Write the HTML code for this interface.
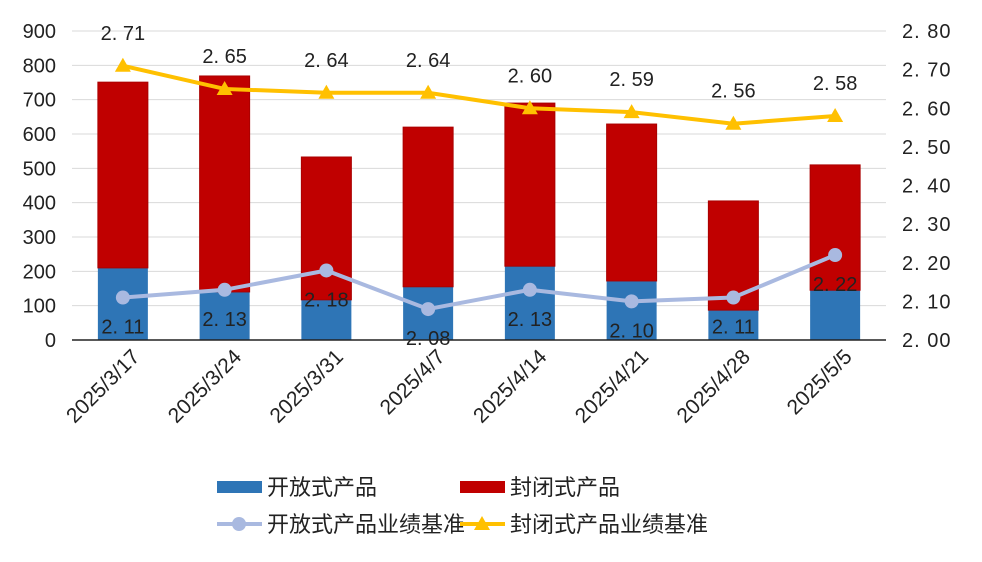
<!DOCTYPE html>
<html><head><meta charset="utf-8"><style>
body{margin:0;background:#fff;width:982px;height:557px;overflow:hidden;font-family:"Liberation Sans","Noto Sans CJK SC",sans-serif}
svg text{font-family:"Liberation Sans","Noto Sans CJK SC",sans-serif}
</style></head><body>
<svg id="c" width="982" height="557"></svg>
<script>
const categories=["2025/3/17","2025/3/24","2025/3/31","2025/4/7","2025/4/14","2025/4/21","2025/4/28","2025/5/5"];
const openVals=[210,140,117,155,215,172,87,145];
const closedVals=[541,629,416,465,475,457,318,365];
const openRate=[2.11,2.13,2.18,2.08,2.13,2.10,2.11,2.22];
const closedRate=[2.71,2.65,2.64,2.64,2.60,2.59,2.56,2.58];
const leftTicks=[0,100,200,300,400,500,600,700,800,900];
const rightTicks=["2.00","2.10","2.20","2.30","2.40","2.50","2.60","2.70","2.80"];
const NS="http://www.w3.org/2000/svg",svg=document.getElementById('c');
const L=72,R=886,T=31,B=340;
const yL=v=>B-(B-T)*v/900, yR=v=>B-(B-T)*(v-2)/0.8;
const step=(R-L)/categories.length, xc=i=>L+step*(i+0.5);
function el(t,a,txt){const e=document.createElementNS(NS,t);for(const k in a)e.setAttribute(k,a[k]);if(txt!=null)e.textContent=txt;svg.appendChild(e);return e;}
const fmt=v=>v.toFixed(2).replace('.','. ');
leftTicks.forEach(v=>{
 if(v>0){const g=el('line',{x1:L,x2:R,y1:yL(v),y2:yL(v),stroke:'#d9d9d9','stroke-width':1});}
 const t=el('text',{x:56,y:yL(v)+7,'text-anchor':'end','font-size':20,fill:'#222'},v);
 
});
rightTicks.forEach(s=>{const v=parseFloat(s);
 const t=el('text',{x:902,y:yR(v)+7,'font-size':20,fill:'#222','letter-spacing':'1'},s.replace('.','. '));
 
});
categories.forEach((c,i)=>{
 const x=xc(i),w=50;
 const b1=el('rect',{x:x-w/2,y:yL(openVals[i]),width:w,height:B-yL(openVals[i]),fill:'#2e75b6'});
 
 const top=openVals[i]+closedVals[i];
 const b2=el('rect',{x:x-w/2,y:yL(top),width:w,height:yL(openVals[i])-yL(top),fill:'#c00000',stroke:'#a00','stroke-width':1});
 
 const ax0=x+18,ay0=B+18;
 const t=el('text',{x:ax0,y:ay0,'text-anchor':'end','font-size':21,fill:'#222',transform:`rotate(-45 ${ax0} ${ay0})`},c);
 
});
const ax=el('line',{x1:L,x2:R,y1:B,y2:B,stroke:'#222','stroke-width':1.5});
const lo=el('polyline',{points:openRate.map((v,i)=>xc(i)+','+yR(v)).join(' '),fill:'none',stroke:'#a9b9e0','stroke-width':4});

const lc=el('polyline',{points:closedRate.map((v,i)=>xc(i)+','+yR(v)).join(' '),fill:'none',stroke:'#ffc000','stroke-width':4});

openRate.forEach((v,i)=>{const x=xc(i),y=yR(v);
 const p=el('circle',{cx:x,cy:y,r:7,fill:'#a9b9e0'});
 const t=el('text',{x:x,y:y+36,'text-anchor':'middle','font-size':20,fill:'#222'},fmt(v));
});
closedRate.forEach((v,i)=>{const x=xc(i),y=yR(v);
 const p=el('polygon',{points:`${x},${y-8} ${x+8},${y+6} ${x-8},${y+6}`,fill:'#ffc000'});
 const t=el('text',{x:x,y:y-26,'text-anchor':'middle','font-size':20,fill:'#222'},fmt(v));
});
function leg(kind,x,y,color,label){
 if(kind==='rect'){const r=el('rect',{x:x,y:y-6,width:45,height:12,fill:color});}
 else{const l=el('line',{x1:x,x2:x+45,y1:y,y2:y,stroke:color,'stroke-width':4});
  if(kind==='circle')el('circle',{cx:x+22,cy:y,r:7,fill:color});else el('polygon',{points:`${x+22},${y-8} ${x+30},${y+6} ${x+14},${y+6}`,fill:color});}
 const t=el('text',{x:x+50,y:y+8,'font-size':22,fill:'#222'},label);
}
leg('rect',217,487,'#2e75b6','开放式产品');
leg('rect',460,487,'#c00000','封闭式产品');
leg('circle',217,524,'#a9b9e0','开放式产品业绩基准');
leg('tri',460,524,'#ffc000','封闭式产品业绩基准');
</script>
</body></html>
